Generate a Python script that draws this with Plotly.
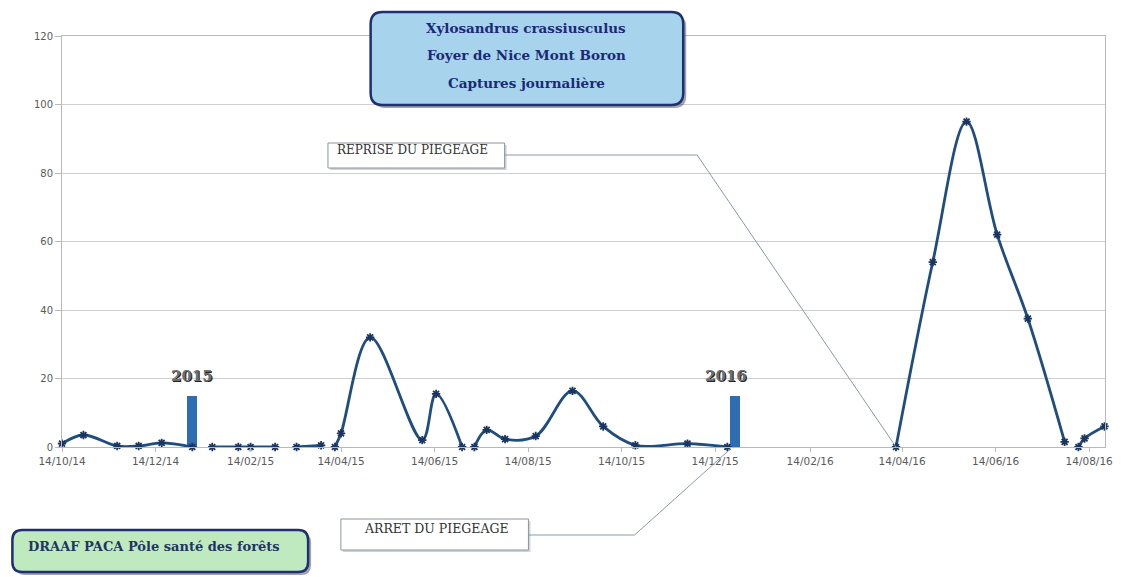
import pandas as pd
import plotly.graph_objects as go

# Trap checks (date, beetles caught); None breaks the curve between trapping runs
check_dates = [
    "2014-10-14", "2014-10-28", "2014-11-19", "2014-12-03", "2014-12-18", "2015-01-07",
    "2015-01-13",
    "2015-01-20", "2015-02-06", "2015-02-14", "2015-03-02",
    "2015-03-09",
    "2015-03-16", "2015-04-01",
    "2015-04-05",
    "2015-04-10", "2015-04-14", "2015-05-03", "2015-06-06", "2015-06-15", "2015-07-02",
    "2015-07-06",
    "2015-07-10", "2015-07-18", "2015-07-30", "2015-08-19", "2015-09-12", "2015-10-02",
    "2015-10-23", "2015-11-26", "2015-12-22",
    "2016-02-15",
    "2016-04-10", "2016-05-04", "2016-05-26", "2016-06-15", "2016-07-05", "2016-07-29",
    "2016-08-03",
    "2016-08-07", "2016-08-11", "2016-08-24",
]
captures = [
    1, 3.5, 0.3, 0.3, 1.2, 0,
    None,
    0, 0, 0, 0,
    None,
    0, 0.5,
    None,
    0, 4, 32, 2, 15.5, 0,
    None,
    0, 5, 2.3, 3.2, 16.4, 6,
    0.5, 1, 0,
    None,
    0, 54, 95, 62, 37.5, 1.5,
    None,
    0, 2.5, 6,
]

# Year markers
year_dates = ["2015-01-07", "2015-12-27"]
year_heights = [15, 15]
year_labels = ["2015", "2016"]

x_tick_labels = ["14/10/14", "14/12/14", "14/02/15", "14/04/15", "14/06/15", "14/08/15",
                 "14/10/15", "14/12/15", "14/02/16", "14/04/16", "14/06/16", "14/08/16"]
y_ticks = [0, 20, 40, 60, 80, 100, 120]

title_lines = ["Xylosandrus crassiusculus", "Foyer de Nice Mont Boron", "Captures journalière"]
credit = "DRAAF PACA Pôle santé des forêts"
resume_label = "REPRISE DU PIEGEAGE"
stop_label = "ARRET DU PIEGEAGE"
resume_date, stop_date = "2016-04-10", "2015-12-22"

W_FIG, H_FIG = 1125, 577
L, R, T, B = 62, 12, 36, 130
PW, PH = W_FIG - L - R, H_FIG - T - B
x_start, x_end = pd.Timestamp("2014-10-14"), pd.Timestamp("2016-08-24 08:00")


def px(x):
    return (x - L) / PW


def py(y):
    return (T + PH - y) / PH


def date_px(d):
    d = pd.Timestamp(d)
    return L + (d - x_start) / (x_end - x_start) * PW


def rounded_rect(x0, y0, x1, y1, r):
    pts = [("M", [(x0 + r, y0)]), ("L", [(x1 - r, y0)]), ("Q", [(x1, y0), (x1, y0 + r)]),
           ("L", [(x1, y1 - r)]), ("Q", [(x1, y1), (x1 - r, y1)]), ("L", [(x0 + r, y1)]),
           ("Q", [(x0, y1), (x0, y1 - r)]), ("L", [(x0, y0 + r)]), ("Q", [(x0, y0), (x0 + r, y0)])]
    s = ""
    for cmd, coords in pts:
        s += cmd + " " + " ".join(f"{px(a):.5f},{py(b):.5f}" for a, b in coords) + " "
    return s + "Z"


def poly(points):
    return "M " + " L ".join(f"{px(a):.5f},{py(b):.5f}" for a, b in points)


x_dates = pd.to_datetime(check_dates)
tick_vals = pd.to_datetime(x_tick_labels, format="%d/%m/%y")

fig = go.Figure()

fig.add_trace(go.Bar(
    x=pd.to_datetime(year_dates), y=year_heights,
    width=6.5 * 86400000, marker=dict(color="#2f6db3", line=dict(width=0)),
    showlegend=False, hoverinfo="skip",
))

fig.add_trace(go.Scatter(
    x=x_dates, y=captures, mode="lines+markers",
    line=dict(color="#1f4e7e", width=2.8, shape="spline", smoothing=1.0),
    marker=dict(symbol="asterisk-open", size=7, color="#1a3560", line=dict(color="#1a3560", width=1.8)),
    connectgaps=False, cliponaxis=False, showlegend=False,
))

shapes = []
# title box with shadow
shapes.append(dict(type="path", xref="paper", yref="paper", layer="above",
                   path=rounded_rect(376, 15, 691, 108, 12),
                   fillcolor="rgba(50,50,80,0.45)", line=dict(width=0)))
shapes.append(dict(type="path", xref="paper", yref="paper", layer="above",
                   path=rounded_rect(373, 12, 688, 105, 12),
                   fillcolor="#a7d3ec", line=dict(color="#1e2f72", width=2.5)))
# credit box with shadow
shapes.append(dict(type="path", xref="paper", yref="paper", layer="above",
                   path=rounded_rect(15, 533, 313, 575, 10),
                   fillcolor="rgba(50,50,80,0.45)", line=dict(width=0)))
shapes.append(dict(type="path", xref="paper", yref="paper", layer="above",
                   path=rounded_rect(12, 530, 310, 572, 10),
                   fillcolor="#bfeabf", line=dict(color="#1e2f72", width=2.5)))
# callout boxes
shapes.append(dict(type="rect", xref="paper", yref="paper", layer="above",
                   x0=px(332), x1=px(510), y0=py(145), y1=py(170),
                   fillcolor="rgba(120,130,140,0.35)", line=dict(width=0)))
shapes.append(dict(type="rect", xref="paper", yref="paper", layer="above",
                   x0=px(330), x1=px(508), y0=py(143), y1=py(168),
                   fillcolor="white", line=dict(color="#8c959e", width=1)))
shapes.append(dict(type="rect", xref="paper", yref="paper", layer="above",
                   x0=px(345), x1=px(534), y0=py(521), y1=py(552),
                   fillcolor="rgba(120,130,140,0.35)", line=dict(width=0)))
shapes.append(dict(type="rect", xref="paper", yref="paper", layer="above",
                   x0=px(343), x1=px(532), y0=py(519), y1=py(550),
                   fillcolor="white", line=dict(color="#8c959e", width=1)))
# leader lines
shapes.append(dict(type="path", xref="paper", yref="paper", layer="above",
                   path=poly([(508, 155), (702, 155), (date_px(resume_date), 447)]),
                   line=dict(color="#8a99a8", width=1)))
shapes.append(dict(type="path", xref="paper", yref="paper", layer="above",
                   path=poly([(532, 535), (639, 535), (date_px(stop_date) + 3, 449)]),
                   line=dict(color="#8a99a8", width=1)))

annotations = []
for line, yp in zip(title_lines, [28, 55, 83]):
    annotations.append(dict(text=f"<b>{line}</b>", xref="paper", yref="paper",
                            x=px(530), y=py(yp), showarrow=False, xanchor="center", yanchor="middle",
                            font=dict(family="DejaVu Serif", size=13.5, color="#1b2a78")))
annotations.append(dict(text=f"<b>{credit}</b>", xref="paper", yref="paper",
                        x=px(155), y=py(546), showarrow=False, xanchor="center", yanchor="middle",
                        font=dict(family="DejaVu Serif", size=13, color="#1f3566")))
annotations.append(dict(text=resume_label, xref="paper", yref="paper",
                        x=px(337), y=py(150), showarrow=False, xanchor="left", yanchor="middle",
                        font=dict(family="DejaVu Serif", size=12, color="#333333")))
annotations.append(dict(text=stop_label, xref="paper", yref="paper",
                        x=px(439), y=py(528), showarrow=False, xanchor="center", yanchor="middle",
                        font=dict(family="DejaVu Serif", size=12.5, color="#333333")))
for d, h, lab, dx in zip(year_dates, year_heights, year_labels, [0, -9]):
    annotations.append(dict(text=f"<b>{lab}</b>", x=pd.Timestamp(d), y=h, xref="x", yref="y",
                            showarrow=False, yanchor="bottom", yshift=9, xshift=dx,
                            font=dict(family="DejaVu Serif", size=15, color="#6e6e6e",
                                      shadow="1px 1px 0px #222")))

fig.update_layout(
    width=W_FIG, height=H_FIG,
    margin=dict(l=L, r=R, t=T, b=B, pad=0),
    paper_bgcolor="white", plot_bgcolor="white",
    shapes=shapes, annotations=annotations,
    bargap=0,
    xaxis=dict(type="date", range=[x_start, x_end], tickvals=tick_vals, ticktext=x_tick_labels,
               showgrid=False, showline=True, linecolor="#b9b9b9", linewidth=1, mirror=True,
               ticks="outside", ticklen=4, tickcolor="#b9b9b9",
               tickfont=dict(family="DejaVu Sans", size=10.5, color="#5a5a5a"), zeroline=False),
    yaxis=dict(range=[0, 120], tickvals=y_ticks, showgrid=True, gridcolor="#cfcfcf", gridwidth=1,
               showline=True, linecolor="#b9b9b9", linewidth=1, mirror=True,
               ticks="outside", ticklen=6, tickcolor="#b9b9b9",
               tickfont=dict(family="DejaVu Sans", size=10, color="#5a5a5a"), zeroline=False),
)

fig.write_html("out.html")
